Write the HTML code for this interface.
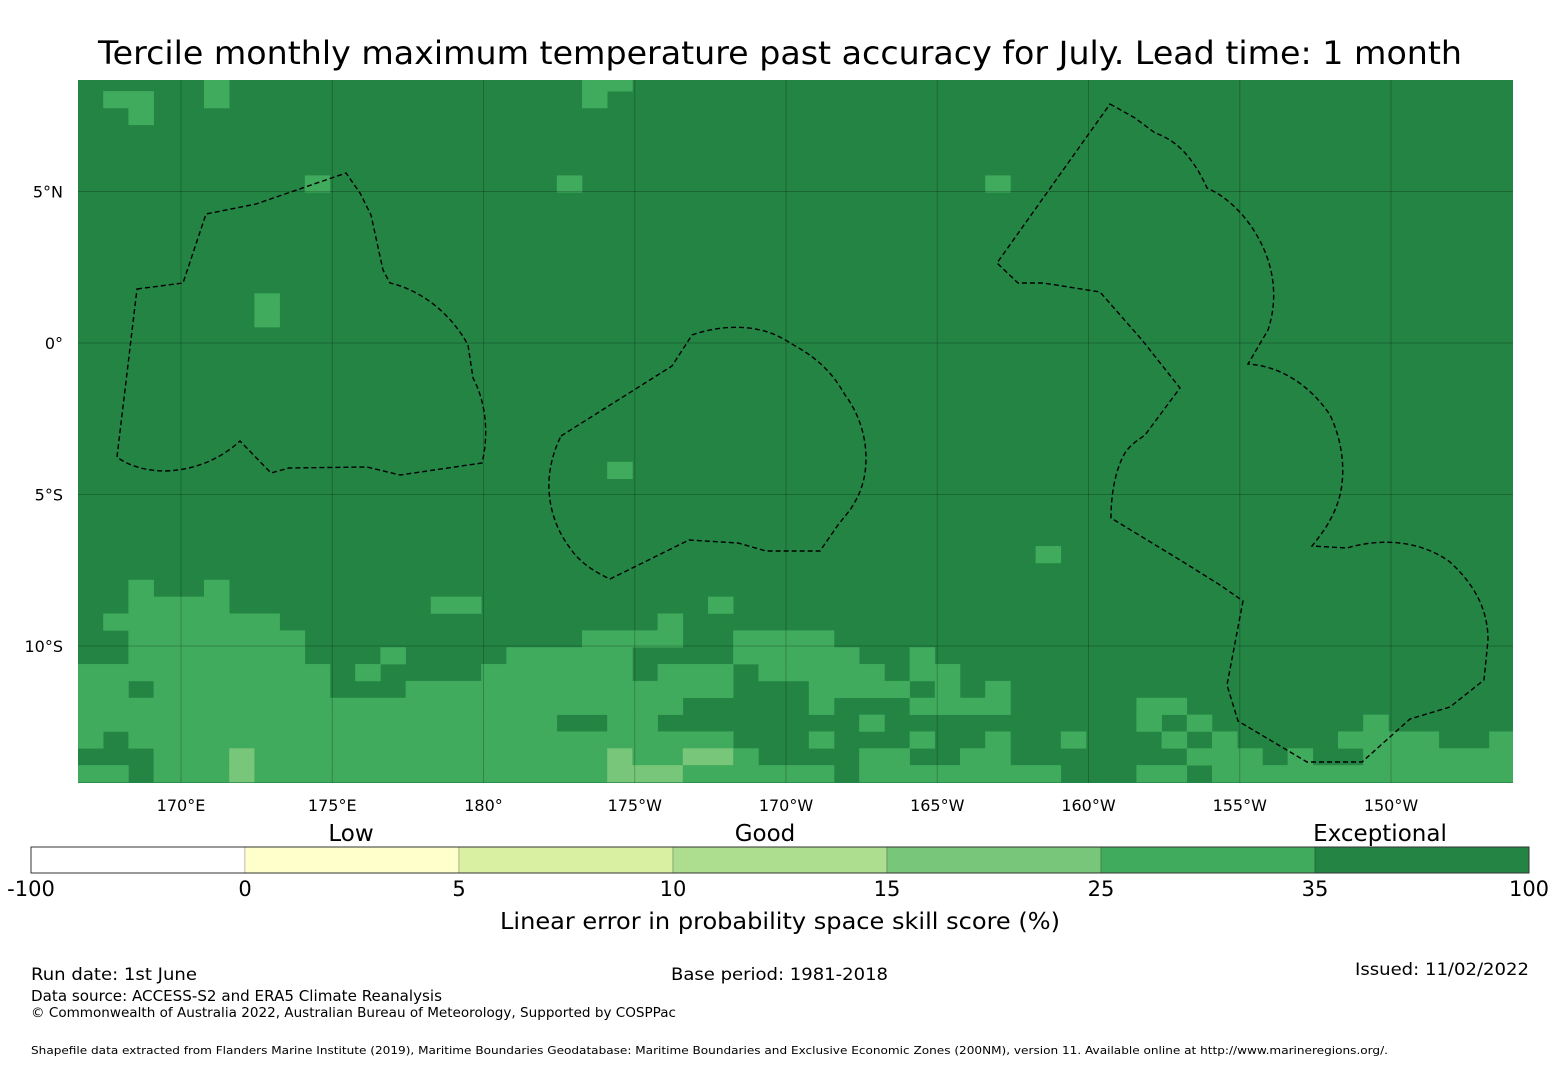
<!DOCTYPE html>
<html><head><meta charset="utf-8"><style>
html,body{margin:0;padding:0;background:#fff;}
svg text{font-family:"DejaVu Sans","Liberation Sans",sans-serif;fill:#000;}
</style></head><body>
<svg id="chart" width="1560" height="1065" viewBox="0 0 1560 1065" xmlns="http://www.w3.org/2000/svg">
<text x="780" y="64" font-size="32" text-anchor="middle" textLength="1364" lengthAdjust="spacingAndGlyphs">Tercile monthly maximum temperature past accuracy for July. Lead time: 1 month</text>
<defs><clipPath id="mapclip"><rect x="78" y="80" width="1435" height="703"/></clipPath></defs>
<g id="map" clip-path="url(#mapclip)">
<rect x="78" y="80" width="1435" height="703" fill="#238443"/>
<g id="cells"></g>
<g id="grid"></g>
<g id="eez" fill="none" stroke="#000" stroke-width="1.4" stroke-dasharray="5,3">
<path d="M137,289 L183,283 L206,214 L256,204 L346,173 L360,193 L371,215 L383,270 L390,283 C420,290 450,312 468,345 L473,378 C484,398 490,430 482,463 L400,475 L367,467 L289,468 L271,473 L240,441 C225,455 200,470 165,471 C145,471 127,465 117,457 Z"/>
<path d="M561,436 L672,366 L692,335 C720,325 760,322 790,343 C812,355 830,368 845,395 C858,412 866,435 866,458 C866,480 860,495 850,510 L838,525 L820,551 L766,551 L738,543 L689,540 L610,579 C595,572 580,563 570,548 C555,528 548,505 549,480 C550,465 554,450 561,436 Z"/>
<path d="M1110,104 L1135,118 L1155,133 C1170,138 1190,150 1207,188 C1230,198 1250,220 1262,245 C1274,270 1278,300 1268,330 L1248,364 C1280,366 1310,385 1330,415 C1342,440 1346,470 1340,495 C1335,515 1325,530 1312,546 L1347,548 C1380,538 1420,540 1450,562 C1475,585 1488,610 1488,640 L1484,680 L1450,707 L1410,719 L1362,762 L1307,762 L1238,721 L1227,685 L1243,601 L1220,585 L1180,560 L1111,518 C1111,495 1115,470 1125,453 C1130,445 1138,440 1145,435 L1180,388 L1142,340 L1100,292 L1043,283 L1018,283 L997,263 Z"/>
</g>
</g>
<g id="axes" font-size="16"></g>
<g id="colorbar"></g>
<text x="351" y="841" font-size="23" text-anchor="middle">Low</text>
<text x="765" y="841" font-size="23" text-anchor="middle">Good</text>
<text x="1380" y="841" font-size="23" text-anchor="middle">Exceptional</text>
<text x="780" y="929" font-size="23" text-anchor="middle" textLength="560" lengthAdjust="spacingAndGlyphs">Linear error in probability space skill score (%)</text>
<text x="31" y="980" font-size="17" textLength="166" lengthAdjust="spacingAndGlyphs">Run date: 1st June</text>
<text x="671" y="980" font-size="17" textLength="217" lengthAdjust="spacingAndGlyphs">Base period: 1981-2018</text>
<text x="1355" y="975" font-size="17" textLength="174" lengthAdjust="spacingAndGlyphs">Issued: 11/02/2022</text>
<text x="31" y="1001" font-size="15" textLength="411" lengthAdjust="spacingAndGlyphs">Data source: ACCESS-S2 and ERA5 Climate Reanalysis</text>
<text x="31" y="1017" font-size="13" textLength="645" lengthAdjust="spacingAndGlyphs">© Commonwealth of Australia 2022, Australian Bureau of Meteorology, Supported by COSPPac</text>
<text x="31" y="1054" font-size="11" textLength="1357" lengthAdjust="spacingAndGlyphs">Shapefile data extracted from Flanders Marine Institute (2019), Maritime Boundaries Geodatabase: Maritime Boundaries and Exclusive Economic Zones (200NM), version 11. Available online at http://www.marineregions.org/.</text>
</svg>
<script>
// grid cells: [row (from bottom), first col, last col, level]  level 1 = 25-35, 2 = 15-25
const cellRuns = [
[41,5,5,1],[41,20,21,1],[40,1,2,1],[40,5,5,1],[40,20,20,1],[39,2,2,1],
[35,9,9,1],[35,19,19,1],[35,36,36,1],[28,7,7,1],[27,7,7,1],[18,21,21,1],[13,38,38,1],
[11,2,2,1],[11,5,5,1],
[10,2,5,1],[10,14,15,1],[10,25,25,1],
[9,1,7,1],[9,23,23,1],
[8,2,8,1],[8,20,23,1],[8,26,29,1],
[7,2,8,1],[7,12,12,1],[7,17,21,1],[7,26,30,1],[7,33,33,1],
[6,0,9,1],[6,11,11,1],[6,16,21,1],[6,23,25,1],[6,27,31,1],[6,33,34,1],
[5,0,1,1],[5,3,9,1],[5,13,25,1],[5,29,32,1],[5,34,34,1],[5,36,36,1],
[4,0,23,1],[4,29,29,1],[4,33,36,1],[4,42,43,1],
[3,0,18,1],[3,21,22,1],[3,31,31,1],[3,42,42,1],[3,44,44,1],[3,51,51,1],
[2,0,0,1],[2,2,25,1],[2,29,29,1],[2,33,33,1],[2,36,36,1],[2,39,39,1],[2,43,43,1],[2,45,45,1],[2,50,53,1],[2,56,56,1],
[1,3,5,1],[1,6,6,2],[1,7,20,1],[1,21,21,2],[1,22,23,1],[1,24,25,2],[1,26,26,1],[1,31,32,1],[1,35,36,1],[1,44,46,1],[1,48,48,1],[1,51,56,1],
[0,0,1,1],[0,3,5,1],[0,6,6,2],[0,7,20,1],[0,21,23,2],[0,24,29,1],[0,31,38,1],[0,42,43,1],[0,45,56,1]
];
const lonTicks = [170,175,180,185,190,195,200,205,210];
const lonLabels = ["170°E","175°E","180°","175°W","170°W","165°W","160°W","155°W","150°W"];
const latTicks = [5,0,-5,-10];
const latLabels = ["5°N","0°","5°S","10°S"];
const cbBounds = [-100,0,5,10,15,25,35,100];
const cbColors = ["#ffffff","#ffffcc","#d9f0a3","#addd8e","#78c679","#41ab5d","#238443"];
const levelColors = ["#238443","#41ab5d","#78c679"];

const NS="http://www.w3.org/2000/svg";
const lonX = lon => 181 + (lon-170)*30.25;
const latY = lat => 343 - lat*30.3;
const colX = c => 78 + c*25.2;
const rowY = r => 782 - (r+1)*16.85;
function mk(tag, attrs, parent){const e=document.createElementNS(NS,tag);for(const k in attrs)e.setAttribute(k,attrs[k]);parent.appendChild(e);return e;}

const cells=document.getElementById('cells');
cellRuns.forEach(run=>{
  const [r,c0,c1,lv]=run;
  const e=mk('rect',{x:colX(c0),y:rowY(r),width:(c1-c0+1)*25.2+0.3,height:17.15,fill:levelColors[lv]},cells);
  
  
});
const grid=document.getElementById('grid');
const axes=document.getElementById('axes');
lonTicks.forEach((v,i)=>{
  const x=lonX(v);
  const l=mk('line',{x1:x,x2:x,y1:80,y2:783,stroke:'rgba(0,0,0,0.22)','stroke-width':1},grid);
  
  
  const t=mk('text',{x:x,y:811,'text-anchor':'middle'},axes);
  t.textContent=lonLabels[i];
  
  
});
latTicks.forEach((v,i)=>{
  const y=latY(v);
  const l=mk('line',{x1:78,x2:1513,y1:y,y2:y,stroke:'rgba(0,0,0,0.22)','stroke-width':1},grid);
  
  
  const t=mk('text',{x:63,y:y+6,'text-anchor':'end'},axes);
  t.textContent=latLabels[i];
  
  
});
const cb=document.getElementById('colorbar');
const segW=(1529-31)/cbColors.length;
cbColors.forEach((col,i)=>{
  const s=mk('rect',{x:31+i*segW,y:847,width:segW,height:26,fill:col,stroke:'rgba(0,0,0,0.25)','stroke-width':0.8},cb);
  
  
});
const o=mk('rect',{x:31,y:847,width:1498,height:26,fill:'none',stroke:'#333','stroke-width':1},cb);


cbBounds.forEach((b,i)=>{
  const t=mk('text',{x:31+i*segW,y:896,'text-anchor':'middle','font-size':21},cb);
  t.textContent=String(b);
  
  
});
</script>
</body></html>
